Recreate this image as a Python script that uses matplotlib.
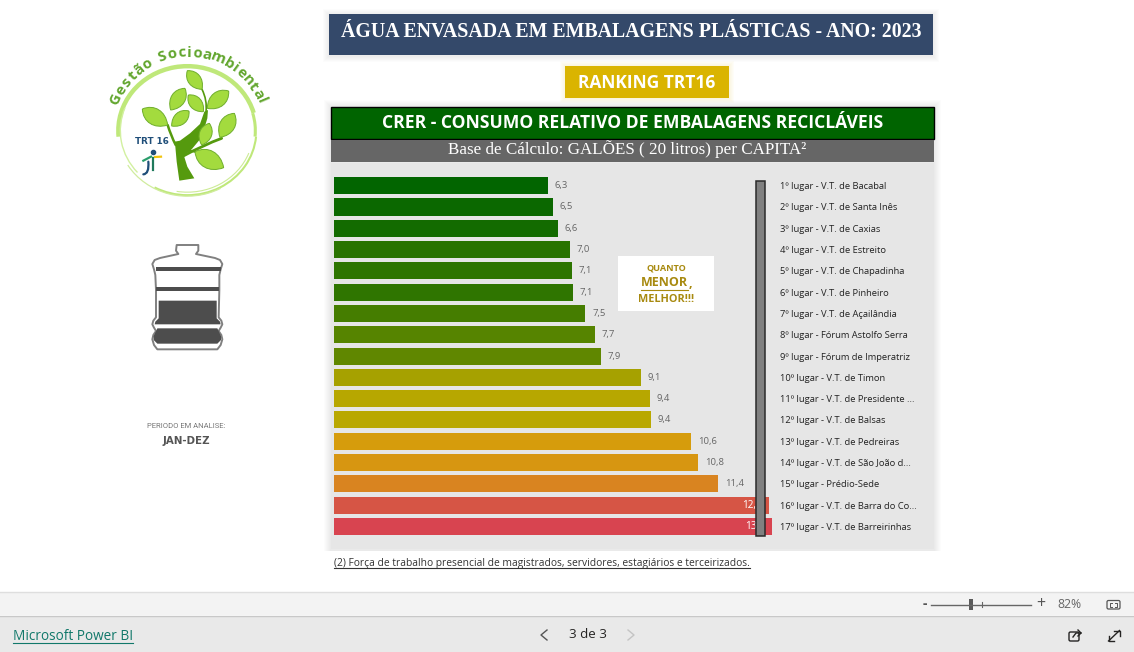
import matplotlib
matplotlib.use("Agg")
import matplotlib.pyplot as plt
from matplotlib.patches import Rectangle, FancyBboxPatch, PathPatch, Arc, Polygon
from matplotlib.path import Path
from matplotlib.colors import LinearSegmentedColormap, Normalize
import numpy as np

lugares = ['1º lugar - V.T. de Bacabal', '2º lugar - V.T. de Santa Inês', '3º lugar - V.T. de Caxias',
           '4º lugar - V.T. de Estreito', '5º lugar - V.T. de Chapadinha', '6º lugar - V.T. de Pinheiro',
           '7º lugar - V.T. de Açailândia', '8º lugar - Fórum Astolfo Serra', '9º lugar - Fórum de Imperatriz',
           '10º lugar - V.T. de Timon', '11º lugar - V.T. de Presidente ...', '12º lugar - V.T. de Balsas',
           '13º lugar - V.T. de Pedreiras', '14º lugar - V.T. de São João d...', '15º lugar - Prédio-Sede',
           '16º lugar - V.T. de Barra do Co...', '17º lugar - V.T. de Barreirinhas']
valores = [6.34, 6.5, 6.64, 7.0, 7.07, 7.1, 7.46, 7.74, 7.92, 9.1, 9.38, 9.4, 10.6, 10.8, 11.4, 12.9, 13.0]

# escala de cor (valor, cor) como no formato condicional
cor_valores = [6.3, 9.4, 10.6, 11.4, 12.9, 13.0]
cor_nomes = ['#006400', '#b9a800', '#d69c0c', '#d98420', '#d55a42', '#d84450']

W, H = 1134, 652
SANS = 'Open Sans'
SERIF = 'Liberation Serif'

fig = plt.figure(figsize=(W / 100, H / 100), dpi=100, facecolor='white')

# fundo em coordenadas de pixel
bg = fig.add_axes([0, 0, 1, 1], zorder=0)
bg.set_xlim(0, W)
bg.set_ylim(H, 0)
bg.axis('off')


def caixa(ax, x0, y0, x1, y1, cor, **kw):
    ax.add_patch(Rectangle((x0, y0), x1 - x0, y1 - y0, facecolor=cor, edgecolor=kw.pop('ec', 'none'), **kw))


def sombra(ax, x0, y0, x1, y1, passos=6):
    for i in range(passos, 0, -1):
        ax.add_patch(Rectangle((x0 - i, y0 - i + 1), x1 - x0 + 2 * i, y1 - y0 + 2 * i,
                               facecolor='black', edgecolor='none', alpha=0.012))


def sublinhado(ax, x, y, s, cor, size, y_linha, family=SANS, **kw):
    t = ax.text(x, y, s, color=cor, fontsize=size, family=family, va='center', ha='left', **kw)
    fig.canvas.draw()
    bb = t.get_window_extent()
    ax.plot([bb.x0, bb.x1], [y_linha, y_linha], color=cor, lw=0.8)
    return t


# titulo
sombra(bg, 329, 14, 933, 55)
caixa(bg, 329, 14, 933, 55, '#34496a')
bg.text(631, 32, 'ÁGUA ENVASADA EM EMBALAGENS PLÁSTICAS - ANO: 2023', color='white', fontsize=14.3,
        family=SERIF, weight='bold', ha='center', va='center')

# ranking
for i in range(5, 0, -1):
    bg.add_patch(Rectangle((565 - i, 66 - i), 164 + 2 * i, 32 + 2 * i, facecolor='#e8d060', edgecolor='none', alpha=0.04))
caixa(bg, 565, 66, 729, 98, '#dab400')
bg.text(647, 82.5, 'RANKING TRT16', color='white', fontsize=12.5, family=SANS, weight='bold',
        ha='center', va='center')

# painel
sombra(bg, 331, 106, 934, 549, passos=7)
caixa(bg, 331, 163, 934, 549, '#e6e6e6')
caixa(bg, 331, 106.5, 934, 138.5, '#006400', ec='black', lw=1)
bg.text(632.5, 123, 'CRER - CONSUMO RELATIVO DE EMBALAGENS RECICLÁVEIS', color='white', fontsize=12.6,
        family=SANS, weight='bold', ha='center', va='center')
caixa(bg, 331, 140, 934, 162, '#666666')
bg.text(627, 149.5, 'Base de Cálculo: GALÕES ( 20 litros) per CAPITA²', color='white', fontsize=12.25,
        family=SERIF, ha='center', va='center')

caixa(bg, 320, 551, 945, 590, 'white')
sublinhado(bg, 334, 563.5, '(2) Força de trabalho presencial de magistrados, servidores, estagiários e terceirizados.',
           '#333333', 7.4, 568)

# grafico de barras
escala = 33.7
xmax = 13.2
y_topo, y_base = 175.05, 537.0
ax = fig.add_axes([334 / W, 1 - y_base / H, xmax * escala / W, (y_base - y_topo) / H], zorder=1)
ax.patch.set_alpha(0)
pos = np.arange(len(valores))
norm = Normalize(min(cor_valores), max(cor_valores))
cmap = LinearSegmentedColormap.from_list('crer', [(norm(v), c) for v, c in zip(cor_valores, cor_nomes)])
ax.barh(pos, valores, height=0.8, color=[cmap(norm(v)) for v in valores])
ax.set_xlim(0, xmax)
ax.set_ylim(len(valores) - 0.5, -0.5)
for s in ax.spines.values():
    s.set_visible(False)
ax.xaxis.set_visible(False)
ax.yaxis.tick_right()
ax.set_yticks(pos, lugares, fontsize=6.75, family=SANS, color='#222222')
ax.tick_params(axis='y', length=0, pad=1)
for p, v in zip(pos, valores):
    txt = f'{v:.1f}'.replace('.', ',')
    if v >= 12:
        # o rotulo fica parcialmente atras da barra cinza, como no original
        ax.text(v - 0.2, p, txt, color='white', fontsize=7.2, family=SANS, ha='right', va='center')
    else:
        ax.text(v + 0.2, p, txt, color='#666666', fontsize=6.8, family=SANS, ha='left', va='center')

# camada de cima
top = fig.add_axes([0, 0, 1, 1], zorder=2)
top.set_xlim(0, W)
top.set_ylim(H, 0)
top.axis('off')
caixa(top, 755.5, 180.5, 765.2, 535.7, '#808080', ec='#2b2b2b', lw=1.1)
caixa(top, 618, 256, 714, 311, 'white')
OURO = '#a88a10'
top.text(666, 268.5, 'QUANTO', color=OURO, fontsize=6.6, family=SANS, weight='bold', ha='center', va='center')
t = top.text(640.5, 283, 'MENOR', color=OURO, fontsize=9.0, family=SANS, weight='bold', ha='left', va='center')
fig.canvas.draw()
bb = t.get_window_extent()
top.plot([bb.x0, bb.x1], [289.5, 289.5], color=OURO, lw=0.8)
top.text(bb.x1 + 0.5, 283.5, ',', color=OURO, fontsize=9.0, family=SANS, weight='bold', ha='left', va='center')
top.text(666, 299.5, 'MELHOR!!!', color=OURO, fontsize=7.8, family=SANS, weight='bold', ha='center', va='center')


# logo (coordenadas da ampliacao 3x, origem 80,30)
def z(x, y):
    return 80 + x / 3, 30 + y / 3


cx, cy = z(322, 302)
VERDE = '#62a62e'
# no eixo y invertido theta cresce no sentido horario
for dw, t1, t2, lw, cor in [(0, 175, 345, 3.2, '#bfe87a'), (-2, 140, 200, 1.0, '#d2f0a0'), (-1, 345, 365, 2.2, '#bfe87a'),
                            (0, 5, 120, 1.5, '#bfe87a'), (-3, 20, 100, 0.8, '#cdeb96'), (1, 60, 150, 0.9, '#d0ec9e')]:
    top.add_patch(Arc((cx, cy), 138 + 2 * dw, 129 + 2 * dw, theta1=t1, theta2=t2, color=cor, lw=lw))

frase = 'Gestão Socioambiental'
larg = {'i': 0.55, 'l': 0.55, 't': 0.75, ' ': 0.7, 'G': 1.15, 'm': 1.4, 'S': 1.0}
pesos = np.array([larg.get(c, 1.0) for c in frase])
centros = np.cumsum(pesos) - pesos / 2
ang = 156 - (centros - centros[0]) / (centros[-1] - centros[0]) * (156 - 23)
tx, ty = z(325, 305)
for c, a in zip(frase, ang):
    rad = np.radians(a)
    top.text(tx + 79 * np.cos(rad), ty - 79 * np.sin(rad), c, rotation=a - 90, rotation_mode='anchor', color=VERDE,
             fontsize=10.8, weight='bold', family='Open Sans', ha='center', va='center')


def folha(p0, p1, largura=0.36):
    a, b = np.array(z(*p0)), np.array(z(*p1))
    d = b - a
    n = np.array([-d[1], d[0]]) * largura
    verts = [a, a + d * 0.25 + n, a + d * 0.7 + n, b, a + d * 0.7 - n, a + d * 0.25 - n, a]
    codes = [Path.MOVETO, Path.CURVE4, Path.CURVE4, Path.CURVE4, Path.CURVE4, Path.CURVE4, Path.CURVE4]
    top.add_patch(PathPatch(Path(verts, codes), facecolor='#a3db3e', edgecolor='#6fae2c', lw=0.7, zorder=4))


for p0, p1 in [((322, 122), (366, 178)), ((315, 175), (272, 240)), ((325, 195), (370, 245)),
               ((446, 183), (382, 235)), ((187, 237), (263, 285)), ((327, 243), (275, 288)),
               ((463, 250), (420, 322)), ((388, 280), (365, 345)), ((345, 365), (431, 413))]:
    folha(p0, p1)


def galho(pts, lw, cor='#559a0e', zo=3):
    vs = [z(*p) for p in pts]
    codes = [Path.MOVETO, Path.CURVE3, Path.CURVE3]
    top.add_patch(PathPatch(Path(vs, codes), facecolor='none', edgecolor=cor, lw=lw, capstyle='round', zorder=zo))


tronco = [(298, 452), (343, 445), (322, 410), (312, 378), (335, 358), (365, 322), (382, 265), (384, 240), (373, 245),
          (360, 282), (330, 310), (300, 332), (284, 335), (286, 350), (290, 395)]
top.add_patch(Polygon([z(*p) for p in tronco], closed=True, facecolor='#559a0e', edgecolor='none', zorder=3))
galho([(287, 345), (272, 315), (263, 285)], 1.8)
galho([(310, 378), (370, 345), (425, 325)], 2)
galho([(318, 362), (345, 362), (375, 375)], 1.4)
galho([(378, 245), (382, 210), (366, 178)], 1.2)
top.text(*z(215, 336), 'TRT 16', color='#1f4e79', fontsize=6.3, weight='bold', family='DejaVu Sans', ha='center', va='center', zorder=5)
top.plot(*z(220, 366), 'o', ms=3.0, color='#1f4e79', zorder=5)
galho([(205, 395), (208, 432), (190, 433)], 1.6, '#1f4e79', 5)
top.plot(*zip(z(190, 392), z(213, 380)), color='#2a9d6b', lw=1.6, zorder=5)
top.plot(*zip(z(225, 381), z(243, 380)), color='#f1c40f', lw=1.6, zorder=5)
top.plot(*zip(z(218, 385), z(218, 420)), color='#1f7a5c', lw=1.6, zorder=5)


# garrafa (coordenadas da ampliacao 3x, origem 120,230)
def g(x, y):
    return 120 + x / 3, 230 + y / 3


CINZA = '#4d4d4d'
contorno = [(170, 45), (235, 45), (235, 62), (228, 72), (285, 84), (300, 90), (307, 102), (302, 118), (298, 135), (298, 180),
            (296, 262), (304, 272), (307, 283), (302, 293), (296, 303), (304, 315), (307, 328), (302, 345), (292, 358),
            (112, 358), (102, 345), (97, 328), (100, 315), (108, 303), (102, 293), (97, 283), (100, 272), (108, 262),
            (108, 180), (106, 135), (102, 118), (97, 102), (104, 90), (120, 84), (175, 72), (168, 62), (170, 45)]
top.add_patch(Polygon([g(*p) for p in contorno], closed=True, facecolor='white', edgecolor='#808080', lw=1.4, joinstyle='round'))
for y0, y1, x0, x1 in [(112, 123, 108, 302), (172, 182, 108, 298)]:
    top.add_patch(Rectangle(g(x0, y0), (x1 - x0) / 3, (y1 - y0) / 3, facecolor=CINZA, edgecolor='none'))
top.add_patch(Polygon([g(*p) for p in [(116, 212), (290, 212), (290, 265), (300, 275), (302, 283), (104, 283), (106, 275), (116, 265)]],
                      closed=True, facecolor=CINZA, edgecolor='none'))
top.add_patch(Polygon([g(*p) for p in [(112, 295), (292, 295), (303, 318), (303, 330), (292, 341), (112, 341), (101, 330), (101, 318)]],
                      closed=True, facecolor=CINZA, edgecolor='none'))

top.text(186, 426, 'PERIODO EM ANALISE:', color='#777777', fontsize=5.5, family='Roboto', ha='center', va='center')
top.text(186, 441, 'JAN-DEZ', color='#555555', fontsize=7.4, weight='bold', family='DejaVu Sans', ha='center', va='center')

# rodape do Power BI
caixa(bg, 0, 592, W, 615, '#f3f3f3')
caixa(bg, 0, 616, W, H, '#e9e9e9')
bg.plot([0, W], [591.5, 591.5], color='#dedede', lw=1)
bg.plot([0, W], [615.5, 615.5], color='#c8c8c8', lw=1)
sublinhado(bg, 13, 636, 'Microsoft Power BI', '#11786a', 9.8, 643)
top.text(588, 635, '3 de 3', color='#252423', fontsize=9.6, family=SANS, ha='center', va='center')
top.plot([547, 541, 547], [630, 635, 640], color='#555555', lw=1)
top.plot([628, 634, 628], [630, 635, 640], color='#c4c4c4', lw=1)

top.text(924.5, 604, '-', color='#555555', fontsize=10, weight='bold', family=SANS, ha='center', va='center')
top.plot([931, 1031], [604.5, 604.5], color='#666666', lw=1)
caixa(top, 969, 599, 973, 610, '#5a5a5a')
top.plot([981.5, 981.5], [602, 607], color='#666666', lw=0.8)
top.text(1041, 604, '+', color='#555555', fontsize=11.5, family=SANS, ha='center', va='center')
top.text(1069.5, 604.5, '82%', color='#666666', fontsize=8.8, family=SANS, ha='center', va='center')
top.add_patch(FancyBboxPatch((1107, 600.5), 13, 8.5, boxstyle='round,pad=0,rounding_size=1.5', facecolor='none', edgecolor='#555555', lw=0.9))
for xs, ys in [([1110, 1110, 1112], [605, 603, 603]), ([1115, 1117, 1117], [603, 603, 605]),
               ([1110, 1110, 1112], [604.5, 606.5, 606.5]), ([1115, 1117, 1117], [606.5, 606.5, 604.5])]:
    top.plot(xs, ys, color='#555555', lw=0.7)
# icones partilhar e expandir
top.add_patch(FancyBboxPatch((1069, 632), 10, 9, boxstyle='round,pad=0,rounding_size=1.5', facecolor='none', edgecolor='#252423', lw=1))
top.plot([1073, 1076, 1081], [637, 633, 633], color='#252423', lw=1)
top.plot([1078, 1081, 1078], [630, 633, 636], color='#252423', lw=1)
top.plot([1108.5, 1119.5], [641, 630.5], color='#252423', lw=1)
top.plot([1114, 1119.5, 1119.5], [630.5, 630.5, 636], color='#252423', lw=1)
top.plot([1108.5, 1108.5, 1114], [636, 641, 641], color='#252423', lw=1)

for a in (bg, top):
    a.set_xlim(0, W)
    a.set_ylim(H, 0)

fig.savefig('out.png', dpi=100, facecolor='white')
